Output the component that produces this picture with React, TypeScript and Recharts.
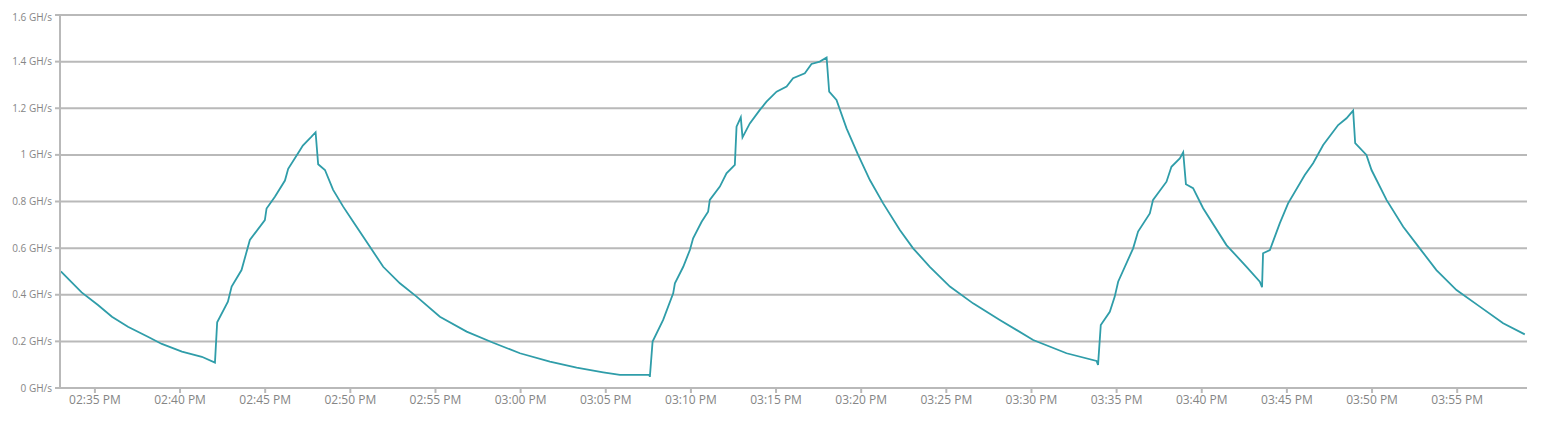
import React from 'react';
import { LineChart, Line, XAxis, YAxis, CartesianGrid } from 'recharts';

// minutes after 02:00 PM
const minutes = [
    33.0, 34.22, 35.18, 36.0, 36.94, 38.11, 38.93, 40.11, 41.28, 42.05,
    42.18, 42.81, 43.03, 43.61, 44.1, 44.98, 45.08, 45.57, 46.16, 46.35,
    47.04, 47.21, 47.72, 47.96, 48.11, 48.51, 48.99, 49.58, 50.17, 51.15,
    51.93, 52.91, 53.89, 55.26, 56.83, 58.39, 59.96, 61.72, 63.29, 64.85,
    65.83, 67.55, 67.59, 67.75, 68.37, 68.96, 69.06, 69.55, 69.94, 70.13,
    70.63, 71.01, 71.11, 71.7, 72.09, 72.58, 72.68, 72.93, 73.03, 73.46,
    74.05, 74.44, 75.03, 75.62, 76.0, 76.69, 77.08, 77.57, 77.97, 78.12,
    78.55, 79.14, 79.82, 80.51, 81.29, 82.27, 83.05, 84.03, 85.21, 86.57,
    88.14, 90.1, 92.06, 93.82, 93.91, 94.07, 94.6, 94.89, 95.09, 95.97,
    96.26, 96.95, 97.14, 97.93, 98.22, 98.71, 98.91, 99.07, 99.49, 100.08,
    101.45, 102.63, 103.41, 103.54, 103.6, 104.0, 104.58, 105.07, 106.05, 106.54,
    107.13, 108.01, 108.5, 108.89, 109.01, 109.67, 109.97, 110.85, 111.83, 112.8,
    113.78, 114.96, 116.33, 117.7, 118.97,
];

// hash rate, GH/s
const hashrate = [
    0.5, 0.41, 0.356, 0.306, 0.263, 0.22, 0.189, 0.156, 0.134, 0.109,
    0.282, 0.37, 0.435, 0.506, 0.635, 0.72, 0.77, 0.82, 0.89, 0.94,
    1.02, 1.04, 1.078, 1.097, 0.96, 0.935, 0.85, 0.778, 0.713, 0.606,
    0.52, 0.449, 0.392, 0.306, 0.242, 0.194, 0.149, 0.113, 0.087, 0.067,
    0.056, 0.056, 0.048, 0.199, 0.292, 0.406, 0.449, 0.52, 0.592, 0.642,
    0.713, 0.756, 0.807, 0.864, 0.921, 0.957, 1.121, 1.161, 1.075, 1.135,
    1.193, 1.228, 1.271, 1.293, 1.329, 1.35, 1.39, 1.4, 1.418, 1.271,
    1.236, 1.114, 1.0, 0.892, 0.792, 0.678, 0.599, 0.52, 0.435, 0.363,
    0.292, 0.206, 0.149, 0.116, 0.099, 0.27, 0.327, 0.392, 0.456, 0.599,
    0.671, 0.749, 0.807, 0.885, 0.949, 0.985, 1.011, 0.874, 0.857, 0.771,
    0.613, 0.52, 0.456, 0.432, 0.578, 0.592, 0.706, 0.792, 0.914, 0.964,
    1.042, 1.128, 1.157, 1.19, 1.05, 1.0, 0.935, 0.807, 0.692, 0.599,
    0.506, 0.42, 0.349, 0.278, 0.23,
];

const timeTicks = [35, 40, 45, 50, 55, 60, 65, 70, 75, 80, 85, 90, 95, 100, 105, 110, 115];
const rateTicks = [0, 0.2, 0.4, 0.6, 0.8, 1, 1.2, 1.4, 1.6];

const data = minutes.map((t, i) => ({ t, v: hashrate[i] }));

const fmtTime = (t: number) => {
    const h = 2 + Math.floor(t / 60);
    const m = Math.round(t % 60);
    return `${String(h).padStart(2, '0')}:${String(m).padStart(2, '0')} PM`;
};

const fmtRate = (v: number) => `${Math.round(v * 10) / 10} GH/s`;

const GRID = '#b9b9b9';
const TEXT = '#858585';

// single-line y tick, recharts would otherwise wrap it
const RateTick = (props: any) => {
    const { x, y, payload } = props;
    return (
        <text x={x} y={y} dy={3.5} textAnchor="end" fill={TEXT} fontSize={10}>
            {fmtRate(payload.value)}
        </text>
    );
};

export default function App() {
    return (
        <div style={{ fontFamily: '"Open Sans", sans-serif' }}>
            <LineChart width={1542} height={405} data={data} margin={{ top: 7, right: 23, bottom: 0, left: 0 }}>
                <CartesianGrid vertical={false} stroke={GRID} strokeWidth={2} />
                <XAxis
                    dataKey="t"
                    type="number"
                    domain={[32.95, 119.1]}
                    ticks={timeTicks}
                    tickFormatter={fmtTime}
                    height={25}
                    stroke={GRID}
                    strokeWidth={2}
                    tickSize={5}
                    tickMargin={2}
                    tick={{ fill: TEXT, fontSize: 12 }}
                />
                <YAxis
                    type="number"
                    domain={[0, 1.6]}
                    ticks={rateTicks}
                    width={52}
                    stroke={GRID}
                    strokeWidth={2}
                    tickSize={5}
                    tickMargin={3}
                    tick={<RateTick />}
                />
                <Line
                    type="linear"
                    dataKey="v"
                    stroke="#2f9da9"
                    strokeWidth={1.8}
                    dot={false}
                    isAnimationActive={false}
                />
            </LineChart>
        </div>
    );
}
